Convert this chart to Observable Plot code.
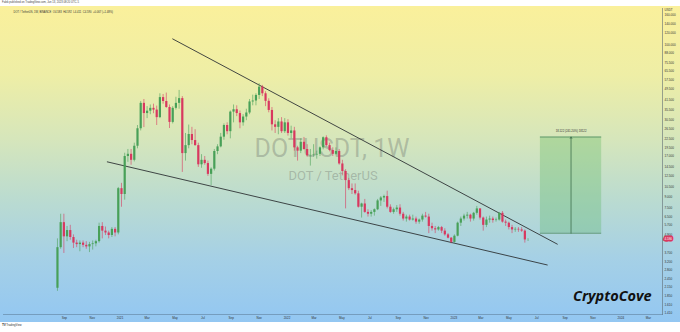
<!DOCTYPE html>
<html><head><meta charset="utf-8">
<script src="https://cdn.jsdelivr.net/npm/d3@7"></script>
<script src="https://cdn.jsdelivr.net/npm/@observablehq/plot@0.6"></script>
<style>
html,body{margin:0;padding:0;background:#fff;width:680px;height:332px;overflow:hidden;font-family:"Liberation Sans",Arial,sans-serif;position:relative}
#hdr{position:absolute;left:2px;top:0;height:6px;font-size:2.7px;line-height:6px;color:#444;white-space:nowrap}
#chart{position:absolute;left:0;top:6px}
#ftr{position:absolute;left:2px;top:322px;height:6px;font-size:2.8px;line-height:6px;color:#333;white-space:nowrap}
#ftr b{font-size:3.2px;letter-spacing:-0.3px}
</style></head><body>
<div id="hdr">Fabik published on TradingView.com, Jun 13, 2023 08:20 UTC-5</div>
<div id="chart"></div>
<div id="ftr"><b>TV</b> TradingView</div>
<script>
// ---- data (weekly DOT/USDT, Binance) ----
const firstWeek = "2020-08-17";
const opens = [
 2.10,4.00,5.95,4.75,5.25,4.70,4.30,4.20,4.30,4.15,
 4.05,4.20,4.25,4.40,5.60,5.20,5.05,4.85,5.35,5.05,
 10.20,9.30,17.00,17.60,16.00,20.00,26.40,39.50,33.60,34.90,
 36.50,35.50,31.50,43.30,40.70,37.00,29.20,36.50,39.50,42.60,
 17.80,20.20,24.10,21.90,20.20,14.90,16.00,15.20,12.80,13.90,
 18.40,19.80,23.10,27.80,25.20,34.40,35.70,33.60,29.00,31.80,
 33.90,40.40,41.00,44.80,51.10,46.00,40.80,35.30,28.10,27.00,
 29.40,25.20,29.00,24.50,25.50,19.50,18.50,21.30,19.00,17.20,
 17.30,17.40,17.60,19.50,22.90,20.20,18.70,17.60,18.40,15.10,
 13.40,11.60,10.20,9.90,9.40,7.60,8.00,7.00,6.80,7.00,
 7.30,8.40,8.80,9.00,7.60,7.00,7.30,7.50,6.80,6.30,
 6.50,6.20,6.30,6.00,6.20,6.60,6.50,5.60,5.40,5.30,
 5.50,5.20,4.90,4.65,4.35,4.80,5.90,6.30,6.60,6.70,
 6.30,6.90,7.40,6.40,5.70,6.20,6.30,6.15,6.20,6.90,
 6.00,5.90,5.50,5.30,5.35,5.30,5.20,4.583];
const highs = [
 4.60,6.80,6.80,5.60,5.70,4.90,4.50,4.45,4.45,4.40,
 4.35,4.45,4.50,5.90,5.95,5.55,5.20,5.50,5.50,10.40,
 11.10,17.90,19.00,19.00,21.00,27.80,40.70,42.00,37.50,38.50,
 39.00,37.80,46.00,45.50,46.50,38.50,37.50,43.50,48.50,44.00,
 24.50,28.00,27.00,26.00,21.00,17.50,17.00,15.80,14.20,19.00,
 20.50,24.50,28.50,29.00,35.00,38.50,38.00,35.00,33.00,36.00,
 42.00,45.00,46.00,54.00,52.50,47.50,42.50,37.00,30.00,31.00,
 31.50,31.00,30.50,27.50,27.00,20.00,22.50,23.00,20.50,19.00,
 20.50,18.50,19.80,23.20,23.60,21.00,19.50,19.50,19.00,16.00,
 13.80,12.00,11.00,11.00,9.80,8.10,8.60,7.30,7.20,7.40,
 8.60,9.00,9.20,9.80,7.90,7.50,7.80,7.90,7.00,6.70,
 6.70,6.70,6.50,6.30,6.80,7.00,6.80,5.90,5.60,5.60,
 5.60,5.40,5.00,4.70,4.90,6.00,6.50,6.80,7.00,6.80,
 7.00,7.70,7.40,6.50,6.50,6.60,6.50,6.40,7.00,7.10,
 6.20,6.00,5.70,5.50,5.50,5.50,5.30,4.592];
const lows = [
 2.00,3.90,3.65,4.40,4.50,3.95,4.00,3.75,4.00,3.90,
 3.70,3.85,4.05,4.30,4.60,4.85,4.60,4.70,4.75,4.90,
 7.60,8.50,15.50,14.80,15.60,19.20,25.50,26.90,31.00,33.00,
 33.50,27.80,31.00,39.00,36.50,26.50,28.50,35.50,36.00,13.20,
 15.80,19.20,20.50,20.00,14.30,14.10,14.80,12.40,10.70,13.50,
 17.50,19.50,22.00,24.00,22.50,29.00,32.00,26.40,27.50,30.00,
 33.00,38.00,38.00,42.00,44.00,37.50,34.00,25.50,24.50,24.00,
 24.50,24.50,23.50,22.50,18.50,15.80,17.80,18.80,16.80,14.60,
 16.80,16.30,17.00,18.90,19.80,18.30,17.00,17.20,14.80,12.50,
 7.40,9.90,9.30,9.20,7.50,6.40,6.90,6.50,6.50,6.60,
 7.20,7.70,8.20,7.40,6.90,6.80,7.00,6.60,6.10,6.00,
 6.10,6.10,5.80,5.80,6.00,6.40,5.00,5.20,5.00,5.20,
 5.00,4.80,4.60,4.25,4.30,4.75,5.60,6.10,6.30,6.00,
 6.10,6.70,6.20,5.20,5.50,5.90,5.90,6.00,6.10,5.90,
 5.60,5.30,5.00,5.10,5.10,5.10,4.30,4.411];
const closes = [
 4.00,5.95,4.75,5.25,4.70,4.30,4.20,4.30,4.15,4.05,
 4.20,4.25,4.40,5.60,5.20,5.05,4.85,5.35,5.05,10.20,
 9.30,17.00,17.60,16.00,20.00,26.40,39.50,33.60,34.90,36.50,
 35.50,31.50,43.30,40.70,37.00,29.20,36.50,39.50,42.60,17.80,
 20.20,24.10,21.90,20.20,14.90,16.00,15.20,12.80,13.90,18.40,
 19.80,23.10,27.80,25.20,34.40,35.70,33.60,29.00,31.80,33.90,
 40.40,41.00,44.80,51.10,46.00,40.80,35.30,28.10,27.00,29.40,
 25.20,29.00,24.50,25.50,19.50,18.50,21.30,19.00,17.20,17.30,
 17.40,17.60,19.50,22.90,20.20,18.70,17.60,18.40,15.10,13.40,
 11.60,10.20,9.90,9.40,7.60,8.00,7.00,6.80,7.00,7.30,
 8.40,8.80,9.00,7.60,7.00,7.30,7.50,6.80,6.30,6.50,
 6.20,6.30,6.00,6.20,6.60,6.50,5.60,5.40,5.30,5.50,
 5.20,4.90,4.65,4.35,4.80,5.90,6.30,6.60,6.70,6.30,
 6.90,7.40,6.40,5.70,6.20,6.30,6.15,6.20,6.90,6.00,
 5.90,5.50,5.30,5.35,5.30,5.20,4.523,4.590];

// trend lines (falling wedge)
const upperLineDates = ["2021-04-26", "2023-08-15"];
const upperLinePrices = [109.8, 4.23];
const lowerLineDates = ["2020-12-04", "2023-07-24"];
const lowerLinePrices = [15.61, 3.04];

// target range box
const boxDates = ["2023-07-09", "2023-11-20"];
const boxPrices = [5.03, 23.15];
const boxLabel = "18.122 (241.20%) 18122";

// axes
const yTicks = [160,140,120,100,88,75.5,65.5,57.5,49.5,41.5,35.5,30.5,26.5,22.5,19.5,17,14.5,12.5,10.5,9,7.5,6.5,5.7,4.9,3.7,3.2,2.8,2.45,2.15,1.85,1.61,1.41];
const xTicks = ["2020-09-01","2020-11-01","2021-01-01","2021-03-01","2021-05-01","2021-07-01","2021-09-01","2021-11-01",
 "2022-01-01","2022-03-01","2022-05-01","2022-07-01","2022-09-01","2022-11-01","2023-01-01","2023-03-01",
 "2023-05-01","2023-07-01","2023-09-01","2023-11-01","2024-01-01","2024-03-01"];
const xDomain = ["2020-04-21", "2024-04-01"];
const yDomain = [1.385, 178];

const legendText = "DOT / TetherUS, 1W, BINANCE  O4.583  H4.592  L4.411  C4.590  +0.067 (+1.48%)";
const watermark1 = "DOTUSDT, 1W";
const watermark2 = "DOT / TetherUS";
const signature = "CryptoCove";
const lastPrice = "4.590";

// ---- build ----
const weeks = d3.utcMonday.range(new Date(firstWeek), new Date("2023-06-13")).slice(0, closes.length);
const candles = weeks.map((d, i) => ({date: d, open: opens[i], high: highs[i], low: lows[i], close: closes[i]}));
const GREEN = "#48a058", RED = "#d8385f";
const col = d => d.close >= d.open ? GREEN : RED;

const upper = upperLineDates.map((d, i) => ({date: new Date(d), price: upperLinePrices[i]}));
const lower = lowerLineDates.map((d, i) => ({date: new Date(d), price: lowerLinePrices[i]}));
const bx1 = new Date(boxDates[0]), bx2 = new Date(boxDates[1]);
const bmid = new Date((+bx1 + +bx2) / 2);

const fmtX = d => d.getUTCMonth() === 0 ? String(d.getUTCFullYear()) : d3.utcFormat("%b")(d);
const fmtY = d3.format(".3f");

const chart = Plot.plot({
  width: 680, height: 316,
  marginTop: 2, marginBottom: 8, marginLeft: 3, marginRight: 18,
  x: {type: "utc", domain: xDomain.map(d => new Date(d))},
  y: {type: "log", domain: yDomain, axis: null},
  style: {
    background: "linear-gradient(180deg, #faf09b 0%, #eeeea6 22%, #d6e6bb 42%, #bcdccf 60%, #a5d0e6 80%, #93c7f2 100%)",
    fontFamily: "'Liberation Sans', Arial, sans-serif",
    overflow: "visible"
  },
  marks: [
    // watermark
    Plot.text([watermark1], {frameAnchor: "middle", text: d => d, dx: -1, dy: -13, fontSize: 25, fontFamily: "Roboto", fill: "#6a6f6a", fillOpacity: 0.36}),
    Plot.text([watermark2], {frameAnchor: "middle", text: d => d, dx: 0, dy: 14.5, fontSize: 13, fontFamily: "Roboto", fill: "#6a6f6a", fillOpacity: 0.36}),
    // target box
    Plot.rect([0], {x1: bx1, x2: bx2, y1: boxPrices[0], y2: boxPrices[1], fill: "#4caf50", fillOpacity: 0.28}),
    Plot.ruleY(boxPrices, {x1: bx1, x2: bx2, stroke: "#4f8a5e", strokeWidth: 0.8}),
    Plot.arrow([0], {x1: bmid, x2: bmid, y1: boxPrices[0], y2: boxPrices[1], stroke: "#3e6f4c", strokeWidth: 0.8, headLength: 3}),
    Plot.text([boxLabel], {x: bmid, y: boxPrices[1], text: d => d, dy: -6, fontSize: 2.8, fill: "#333"}),
    // wedge lines
    Plot.line(upper, {x: "date", y: "price", stroke: "#2f3336", strokeWidth: 0.9}),
    Plot.line(lower, {x: "date", y: "price", stroke: "#2f3336", strokeWidth: 0.9}),
    // candles
    Plot.ruleX(candles, {x: "date", y1: "low", y2: "high", stroke: col, strokeWidth: 0.7, strokeOpacity: 0.85}),
    Plot.ruleX(candles, {x: "date", y1: "open", y2: "close", stroke: col, strokeWidth: 2.2}),
    // axes & frame
    Plot.frame({anchor: "right", stroke: "#5f6b74", strokeWidth: 0.6}),
    Plot.frame({anchor: "bottom", stroke: "#5f7f9c", strokeWidth: 0.6}),
    Plot.axisX({ticks: xTicks.map(d => new Date(d)), tickFormat: fmtX, tickSize: 0, tickPadding: 2.2, fontSize: 3, fill: "#333", label: null}),
    Plot.text(yTicks, {y: d => d, text: d => fmtY(d), frameAnchor: "right", dx: 2, textAnchor: "start", fontSize: 3.1, fill: "#333"}),
    Plot.text(["USDT"], {frameAnchor: "top-right", text: d => d, dx: 2, dy: 0.5, textAnchor: "start", fontSize: 3, fill: "#333"}),
    Plot.text([+lastPrice], {y: d => d, text: () => lastPrice, frameAnchor: "right", dx: 2, textAnchor: "start", fontSize: 3, fill: "#fff", stroke: "#d8385f", strokeWidth: 3.2}),
    // legend + signature
    Plot.text([legendText], {frameAnchor: "top-left", text: d => d, dx: 10, dy: 3, textAnchor: "start", fontSize: 2.7, fill: "#333"}),
    Plot.text([signature], {frameAnchor: "bottom-right", text: d => d, dx: -11, dy: -14, textAnchor: "end", fontSize: 14.5, fontWeight: "bold", fontStyle: "italic", fontFamily: "'Open Sans', sans-serif", fill: "#111"})
  ]
});
document.getElementById("chart").appendChild(chart);
</script></body></html>
